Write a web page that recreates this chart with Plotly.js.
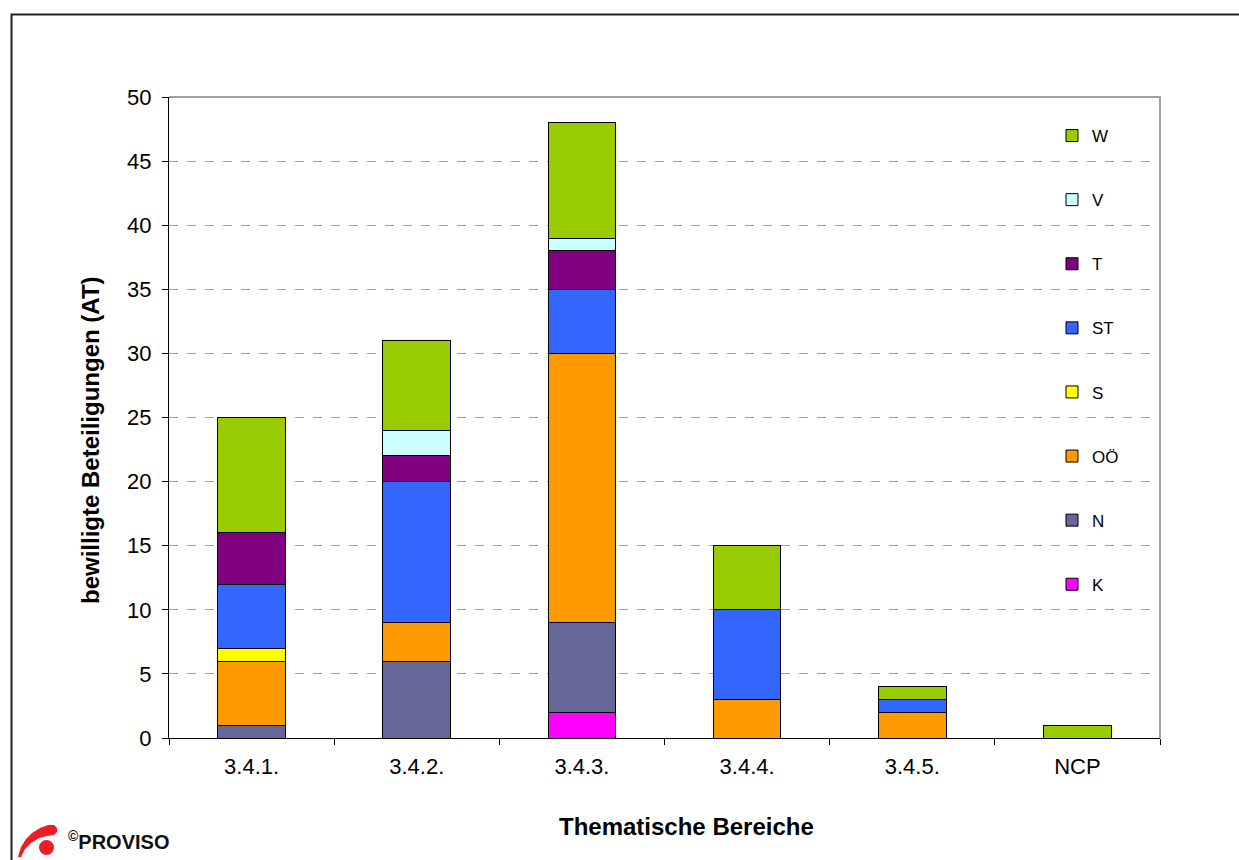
<!DOCTYPE html>
<html>
<head>
<meta charset="utf-8">
<script src="https://cdn.plot.ly/plotly-3.0.1.min.js"></script>
<style>
html,body{margin:0;padding:0;background:#fff;}
#chart{width:1239px;height:860px;}
</style>
</head>
<body>
<div id="chart"></div>
<script>
// ---- data ----
const categories = ["3.4.1.", "3.4.2.", "3.4.3.", "3.4.4.", "3.4.5.", "NCP"];
const seriesNames = ["K", "N", "OÖ", "S", "ST", "T", "V", "W"];
const K  = [null, null, 2, null, null, null];
const N  = [1, 6, 7, null, null, null];
const OO = [5, 3, 21, 3, 2, null];
const S  = [1, null, null, null, null, null];
const ST = [5, 11, 5, 7, 1, null];
const T  = [4, 2, 3, null, null, null];
const V  = [null, 2, 1, null, null, null];
const W  = [9, 7, 9, 5, 1, 1];
const seriesValues = [K, N, OO, S, ST, T, V, W];
const seriesColors = ["#FF00FF", "#666699", "#FF9900", "#FFFF00", "#3366FF", "#800080", "#CCFFFF", "#99CC00"];
const yTicks = [0, 5, 10, 15, 20, 25, 30, 35, 40, 45, 50];
const xTitle = "Thematische Bereiche";
const yTitle = "bewilligte Beteiligungen (AT)";

// ---- layout geometry (pixels) ----
const W_PX = 1239, H_PX = 860;
const plotL = 169, plotR = 1160, plotT = 97, plotB = 738;
const pw = plotR - plotL, ph = plotB - plotT;
const px = x => (x - plotL) / pw;
const py = y => (plotB - y) / ph;

const traces = seriesNames.map((name, i) => ({
  type: "bar",
  name: name,
  x: categories,
  y: seriesValues[i],
  legendgroup: name,
  legendrank: seriesNames.length - i,
  marker: {color: seriesColors[i], line: {color: "#000", width: 1}},
  width: 0.41,
  hoverinfo: "skip"
}));

const shapes = [];
// outer frame
shapes.push({type: "path", xref: "paper", yref: "paper",
  path: `M ${px(11.5)} ${py(875)} L ${px(11.5)} ${py(14.5)} L ${px(1250)} ${py(14.5)}`,
  line: {color: "#222", width: 2}, layer: "above"});
// plot border (gray top/right)
shapes.push({type: "path", xref: "paper", yref: "paper",
  path: `M ${px(169)} ${py(97)} L ${px(1160)} ${py(97)} L ${px(1160)} ${py(738)}`,
  line: {color: "#A0A0A0", width: 2}, layer: "below"});
// logo swoosh
const sw = [
  [18, 857], [21, 847], [26, 839], [32, 833], [40, 828], [48, 825], [54, 825],
  [57, 828], [57, 832], [54, 835], [47, 836], [39, 838], [31, 843], [25, 849], [21, 857]
];
shapes.push({type: "path", xref: "paper", yref: "paper",
  path: "M " + sw.map(p => px(p[0]) + " " + py(p[1])).join(" L ") + " Z",
  fillcolor: "#EE1C25", line: {width: 0}});
shapes.push({type: "circle", xref: "paper", yref: "paper",
  x0: px(39), x1: px(54), y0: py(855), y1: py(840),
  fillcolor: "#EE1C25", line: {width: 0}});

const layout = {
  width: W_PX, height: H_PX,
  margin: {l: plotL, r: W_PX - plotR, t: plotT, b: H_PX - plotB},
  paper_bgcolor: "#fff", plot_bgcolor: "#fff",
  barmode: "stack",
  font: {family: "Liberation Sans, Arial, sans-serif", color: "#000", size: 22},
  showlegend: true,
  legend: {
    x: px(1052), y: py(118), xanchor: "left", yanchor: "top",
    traceorder: "grouped", tracegroupgap: 39,
    font: {size: 17, color: "#000"}, bgcolor: "rgba(0,0,0,0)", borderwidth: 0,
    itemwidth: 30
  },
  xaxis: {
    type: "category",
    tickson: "boundaries",
    ticks: "outside", ticklen: 6, tickcolor: "#000", tickwidth: 1,
    ticklabelstandoff: 9,
    showline: true, linecolor: "#000", linewidth: 1,
    showgrid: false, zeroline: false,
    tickfont: {size: 22},
    fixedrange: true
  },
  yaxis: {
    range: [0, 50],
    tickvals: yTicks,
    ticks: "outside", ticklen: 6, tickcolor: "#000", tickwidth: 1,
    ticklabelstandoff: 6,
    showline: true, linecolor: "#000", linewidth: 1,
    showgrid: true, gridcolor: "#A0A0A0", griddash: "dash", gridwidth: 1,
    zeroline: false,
    tickfont: {size: 22},
    fixedrange: true
  },
  shapes: shapes,
  annotations: [
    {xref: "paper", yref: "paper", x: px(686), y: py(826),
     xanchor: "center", yanchor: "middle", showarrow: false,
     text: "<b>" + xTitle + "</b>", font: {size: 24}},
    {xref: "paper", yref: "paper", x: px(90), y: py(440),
     xanchor: "center", yanchor: "middle", showarrow: false, textangle: -90,
     text: "<b>" + yTitle + "</b>", font: {size: 24}},
    {xref: "paper", yref: "paper", x: px(66), y: py(840),
     xanchor: "left", yanchor: "middle", showarrow: false,
     text: "<b><sup>©</sup>PROVISO</b>",
     font: {family: "Liberation Sans Narrow, Liberation Sans, Arial, sans-serif", size: 20, color: "#111"}}
  ],
  hovermode: false
};

Plotly.newPlot("chart", traces, layout, {displayModeBar: false, staticPlot: true});
</script>
</body>
</html>
